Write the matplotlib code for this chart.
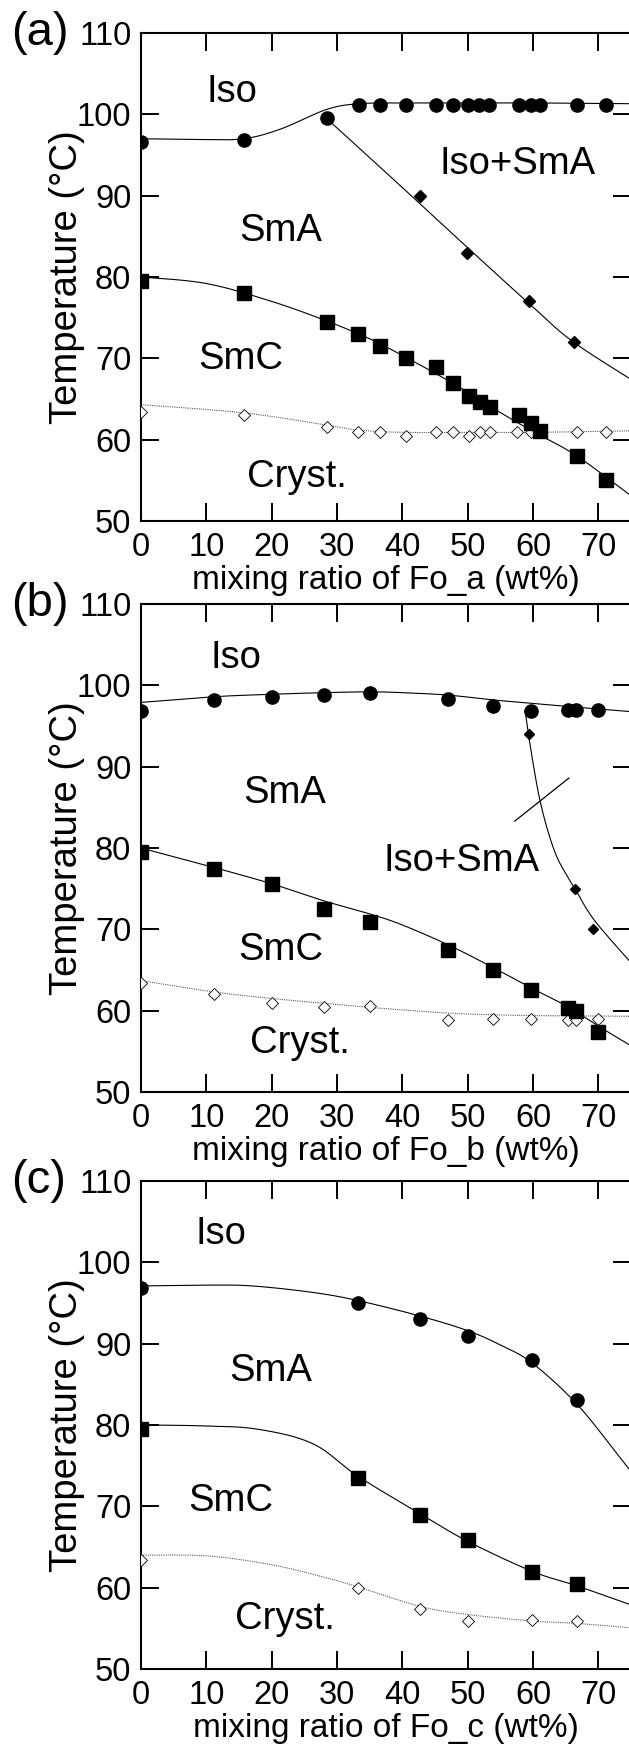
import matplotlib
matplotlib.use("Agg")
import matplotlib.pyplot as plt
import numpy as np

plt.rcParams['font.family'] = ['Liberation Sans', 'DejaVu Sans']

# ---- panel (a): Fo_a ----
a_iso_x = [0, 15.7, 28.4, 33.3, 36.6, 40.6, 45.2, 47.8, 50.1, 51.7, 53.3, 57.8, 59.7, 61.1, 66.7, 71.2]
a_iso_y = [96.6, 96.9, 99.5, 101.1, 101.1, 101.1, 101.1, 101.1, 101.1, 101.1, 101.1, 101.1, 101.1, 101.1, 101.1, 101.1]
a_mix_x = [42.7, 49.9, 59.4, 66.2]
a_mix_y = [90.0, 83.0, 77.0, 72.0]
a_smc_x = [0, 15.7, 28.4, 33.2, 36.6, 40.6, 45.2, 47.8, 50.2, 51.9, 53.4, 57.8, 59.7, 61.1, 66.7, 71.2]
a_smc_y = [79.5, 78.0, 74.5, 73.0, 71.5, 70.0, 68.9, 67.0, 65.4, 64.6, 64.0, 63.0, 62.1, 61.1, 58.0, 55.0]
a_cr_x = [0, 15.7, 28.4, 33.2, 36.6, 40.6, 45.2, 47.8, 50.2, 51.9, 53.4, 57.6, 59.7, 66.7, 71.2]
a_cr_y = [63.4, 63.0, 61.5, 61.0, 61.0, 60.5, 61.0, 61.0, 60.5, 61.0, 61.0, 61.0, 60.9, 61.0, 61.0]
# guide curves
a_iso_cx = [0, 9, 15.7, 21.4, 28.4, 33.3, 40, 50, 60, 76]
a_iso_cy = [97.0, 96.9, 97.0, 98.2, 100.6, 101.3, 101.4, 101.4, 101.4, 101.3]
a_mix_cx = [28.4, 40, 50, 60, 66.2, 76]
a_mix_cy = [99.5, 91.0, 83.6, 76.3, 72.0, 66.9]
a_smc_cx = [0, 10, 20, 28.4, 35, 40.6, 47.8, 53.4, 60, 66.7, 76]
a_smc_cy = [80.0, 79.2, 77.0, 74.6, 72.4, 70.1, 66.9, 64.1, 61.0, 58.0, 52.5]
a_cr_cx = [0, 15.7, 28.4, 33, 40, 50, 60, 76]
a_cr_cy = [64.3, 63.3, 61.8, 61.2, 60.9, 60.9, 60.9, 61.1]

# ---- panel (b): Fo_b ----
b_iso_x = [0, 11.2, 20.0, 28.0, 35.0, 47.0, 53.9, 59.7, 65.3, 66.6, 70.0]
b_iso_y = [96.9, 98.2, 98.6, 98.8, 99.0, 98.3, 97.5, 96.8, 97.0, 97.0, 97.0]
b_mix_x = [59.4, 66.5, 69.2]
b_mix_y = [94.0, 74.9, 70.0]
b_smc_x = [0, 11.2, 20.0, 28.0, 35.0, 47.0, 53.9, 59.7, 65.3, 66.6, 70.0]
b_smc_y = [79.5, 77.4, 75.6, 72.5, 70.9, 67.4, 65.0, 62.6, 60.3, 60.0, 57.4]
b_cr_x = [0, 11.2, 20.0, 28.0, 35.0, 47.0, 53.9, 59.7, 65.3, 66.6, 70.0]
b_cr_y = [63.4, 62.0, 61.0, 60.5, 60.6, 58.9, 59.0, 59.0, 58.9, 58.9, 59.0]
b_iso_cx = [0, 11.2, 20, 28, 35, 40, 47, 53.9, 59.7, 65.3, 76]
b_iso_cy = [97.9, 98.6, 98.9, 99.1, 99.2, 99.1, 98.8, 98.2, 97.8, 97.4, 96.7]
b_mix_cx = [58.8, 59.3, 60.1, 61.0, 62.2, 63.6, 65.2, 66.5, 69.5, 76]
b_mix_cy = [96.8, 94.0, 90.0, 86.1, 82.3, 79.0, 76.6, 74.9, 71.0, 65.0]
b_smc_cx = [0, 11.2, 20, 28, 35, 39.8, 47, 53.9, 59.7, 65.3, 70, 76]
b_smc_cy = [80.0, 77.6, 75.6, 73.5, 71.9, 70.6, 68.1, 65.3, 62.8, 60.5, 58.1, 55.2]
b_cr_cx = [0, 11.2, 20, 28, 35, 47, 53.9, 59.7, 76]
b_cr_cy = [63.7, 62.3, 61.5, 60.9, 60.4, 59.7, 59.5, 59.4, 59.3]
b_tie_x = [57.2, 65.5]
b_tie_y = [83.3, 88.6]

# ---- panel (c): Fo_c ----
c_x = [0, 33.2, 42.7, 50.0, 59.9, 66.8]
c_iso_y = [96.9, 95.0, 93.0, 90.9, 88.0, 83.1]
c_smc_y = [79.5, 73.5, 68.9, 65.9, 61.9, 60.4]
c_cr_y = [63.4, 59.9, 57.4, 55.9, 56.0, 55.9]
c_iso_cx = [0, 10, 17, 26.3, 33.2, 42.7, 50, 55.1, 59.9, 66.8, 73.6, 76]
c_iso_cy = [97.1, 97.2, 97.1, 96.3, 95.3, 93.4, 91.6, 89.8, 87.6, 82.5, 75.7, 73.3]
c_smc_cx = [0, 9, 17.7, 26.3, 33.2, 42.7, 50, 59.9, 66.8, 76]
c_smc_cy = [80.0, 79.9, 79.5, 77.7, 73.7, 69.1, 65.7, 62.0, 60.2, 57.6]
c_cr_cx = [0, 10.3, 20.1, 27.5, 33.2, 42.7, 50, 59.9, 66.8, 76]
c_cr_cy = [64.0, 63.9, 62.8, 61.4, 60.1, 57.7, 56.7, 55.9, 55.6, 55.0]


def smooth(xs, ys, n=20):
    # catmull-rom through the read-off curve points
    p = np.column_stack([xs, ys]).astype(float)
    p = np.vstack([p[0], p, p[-1]])
    t = np.linspace(0, 1, n, endpoint=False)[:, None]
    out = []
    for i in range(1, len(p) - 2):
        p0, p1, p2, p3 = p[i - 1], p[i], p[i + 1], p[i + 2]
        out.append(0.5 * (2 * p1 + (-p0 + p2) * t + (2 * p0 - 5 * p1 + 4 * p2 - p3) * t ** 2
                          + (-p0 + 3 * p1 - 3 * p2 + p3) * t ** 3))
    out.append(p[-2][None])
    out = np.vstack(out)
    return out[:, 0], out[:, 1]


def solid(ax, xs, ys):
    sx, sy = smooth(xs, ys)
    ax.plot(sx, sy, color='black', lw=0.8, zorder=2)


def dotted(ax, xs, ys):
    sx, sy = smooth(xs, ys)
    ax.plot(sx, sy, color='0.35', lw=0.8, ls=(0, (1, 1)), zorder=2)


def circles(ax, x, y):
    ax.plot(x, y, 'o', color='black', ms=9.5, zorder=4)


def squares(ax, x, y):
    ax.plot(x, y, 's', color='black', ms=10, zorder=4)


def open_diamonds(ax, x, y):
    ax.plot(x, y, 'D', mfc='white', mec='black', mew=0.6, ms=6.5, zorder=3)


def label(ax, x, y, s):
    ax.text(x, y, s, fontsize=27.5, ha='center', va='center', zorder=5)


W, H = 629, 1744
fig = plt.figure(figsize=(W / 100, H / 100), dpi=100)

tops = [33, 604, 1181]
axes = []
for top in tops:
    ax = fig.add_axes([141 / W, 1 - (top + 488) / H, 490 / W, 488 / H])
    axes.append(ax)

for ax, tag, fo in zip(axes, ['(a)', '(b)', '(c)'], ['Fo_a', 'Fo_b', 'Fo_c']):
    ax.set_xlim(0, 75)
    ax.set_ylim(50, 110)
    ax.set_xticks(range(0, 71, 10))
    ax.set_yticks(range(50, 111, 10))
    ax.tick_params(direction='in', length=13, width=1.4, labelsize=23.5,
                   top=True, right=True)
    ax.tick_params(axis='y', pad=7)
    ax.tick_params(axis='x', pad=8)
    for sp in ax.spines.values():
        sp.set_linewidth(1.5)
    ax.spines['right'].set_visible(False)
    ax.text(-74 / 490, 0.5, 'Temperature (°C)', transform=ax.transAxes,
            rotation=90, ha='center', va='center', fontsize=27.5)
    ax.text(0.5, -0.121, f'mixing ratio of {fo} (wt%)', transform=ax.transAxes,
            ha='center', va='center', fontsize=24)
    ax.text(-130 / 490, 1.0, tag, transform=ax.transAxes,
            ha='left', va='center', fontsize=34)

# (a)
ax = axes[0]
solid(ax, a_iso_cx, a_iso_cy)
solid(ax, a_mix_cx, a_mix_cy)
solid(ax, a_smc_cx, a_smc_cy)
dotted(ax, a_cr_cx, a_cr_cy)
open_diamonds(ax, a_cr_x, a_cr_y)
circles(ax, a_iso_x, a_iso_y)
ax.plot(a_mix_x, a_mix_y, 'D', color='black', ms=6.2, zorder=4)
squares(ax, a_smc_x, a_smc_y)
label(ax, 13.9, 102.7, 'Iso')
label(ax, 57.6, 93.9, 'Iso+SmA')
label(ax, 21.4, 85.7, 'SmA')
label(ax, 15.2, 69.9, 'SmC')
label(ax, 23.8, 55.4, 'Cryst.')

# (b)
ax = axes[1]
solid(ax, b_iso_cx, b_iso_cy)
solid(ax, b_mix_cx, b_mix_cy)
solid(ax, b_smc_cx, b_smc_cy)
dotted(ax, b_cr_cx, b_cr_cy)
ax.plot(b_tie_x, b_tie_y, color='black', lw=0.9, zorder=2)
open_diamonds(ax, b_cr_x, b_cr_y)
circles(ax, b_iso_x, b_iso_y)
ax.plot(b_mix_x, b_mix_y, 'D', color='black', ms=5.2, zorder=4)
squares(ax, b_smc_x, b_smc_y)
label(ax, 14.5, 103.4, 'Iso')
label(ax, 22.0, 86.8, 'SmA')
label(ax, 49.0, 78.4, 'Iso+SmA')
label(ax, 21.4, 67.5, 'SmC')
label(ax, 24.4, 56.0, 'Cryst.')

# (c)
ax = axes[2]
solid(ax, c_iso_cx, c_iso_cy)
solid(ax, c_smc_cx, c_smc_cy)
dotted(ax, c_cr_cx, c_cr_cy)
open_diamonds(ax, c_x, c_cr_y)
circles(ax, c_x, c_iso_y)
squares(ax, c_x, c_smc_y)
label(ax, 12.2, 103.5, 'Iso')
label(ax, 19.8, 86.7, 'SmA')
label(ax, 13.7, 70.6, 'SmC')
label(ax, 22.1, 56.2, 'Cryst.')

fig.savefig('out.png', dpi=100)
